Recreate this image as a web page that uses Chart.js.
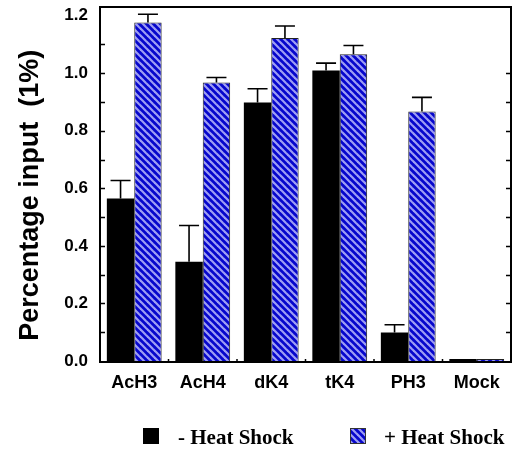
<!DOCTYPE html>
<html>
<head>
<meta charset="utf-8">
<script src="https://cdn.jsdelivr.net/npm/chart.js@4/dist/chart.umd.min.js"></script>
<style>
  html, body { margin: 0; padding: 0; background: #fff; }
  #wrap { width: 521px; height: 450px; position: relative; }
</style>
</head>
<body>
<div id="wrap"><canvas id="c" width="521" height="450"></canvas></div>
<script>
const categories = ['AcH3', 'AcH4', 'dK4', 'tK4', 'PH3', 'Mock'];
const minusHeatShock = [0.565, 0.345, 0.898, 1.009, 0.099, 0.007];
const plusHeatShock  = [1.176, 0.968, 1.122, 1.066, 0.867, 0.007];
const minusErr = [0.062, 0.126, 0.048, 0.026, 0.027, 0];
const plusErr  = [0.029, 0.017, 0.042, 0.030, 0.049, 0];
const seriesLabels = ['- Heat Shock', '+ Heat Shock'];
const yTickValues = [0, 0.2, 0.4, 0.6, 0.8, 1.0, 1.2];
const yTickLabels = ['0.0', '0.2', '0.4', '0.6', '0.8', '1.0', '1.2'];

const canvas = document.getElementById('c');
const mainCtx = canvas.getContext('2d');

function makeHatch(ctx) {
  const s = 7;
  const t = document.createElement('canvas');
  t.width = s; t.height = s;
  const g = t.getContext('2d');
  g.fillStyle = '#0606cc';
  g.fillRect(0, 0, s, s);
  g.strokeStyle = 'rgba(166,166,246,0.95)';
  g.lineWidth = 2.2;
  for (let k = -s; k <= s; k += s) {
    g.beginPath();
    g.moveTo(k - 1, -1);
    g.lineTo(k + s + 1, s + 1);
    g.stroke();
  }
  return ctx.createPattern(t, 'repeat');
}
const hatch = makeHatch(mainCtx);

const errors = [minusErr, plusErr];

const errorBarPlugin = {
  id: 'errorBars',
  afterDatasetsDraw(chart) {
    const ctx = chart.ctx;
    const yScale = chart.scales.y;
    ctx.save();
    ctx.strokeStyle = '#000';
    ctx.lineWidth = 1.6;
    chart.data.datasets.forEach((ds, i) => {
      const meta = chart.getDatasetMeta(i);
      meta.data.forEach((el, j) => {
        const e = errors[i][j];
        if (!e) return;
        const yTop = yScale.getPixelForValue(ds.data[j] + e);
        ctx.beginPath();
        ctx.moveTo(el.x, el.y);
        ctx.lineTo(el.x, yTop);
        ctx.moveTo(el.x - 10, yTop);
        ctx.lineTo(el.x + 10, yTop);
        ctx.stroke();
      });
    });
    ctx.restore();
  }
};

const framePlugin = {
  id: 'frame',
  afterDraw(chart) {
    const ctx = chart.ctx;
    const a = chart.chartArea;
    const y = chart.scales.y;
    const x = chart.scales.x;
    ctx.save();
    ctx.strokeStyle = '#000';
    ctx.lineWidth = 2;
    ctx.beginPath();
    ctx.moveTo(a.left, a.top);
    ctx.lineTo(a.right, a.top);
    ctx.lineTo(a.right, a.bottom + 1);
    ctx.lineTo(a.left, a.bottom + 1);
    ctx.closePath();
    ctx.stroke();
    ctx.lineWidth = 1.5;
    ctx.beginPath();
    for (let v = 1; v <= 11; v++) {
      const py = Math.round(y.getPixelForValue(v / 10)) + 0.5;
      ctx.moveTo(a.left, py); ctx.lineTo(a.left + 5, py);
      if (v <= 10) { ctx.moveTo(a.right, py); ctx.lineTo(a.right - 5, py); }
    }
    for (let i = 1; i < categories.length; i++) {
      const px = (x.getPixelForTick(i - 1) + x.getPixelForTick(i)) / 2;
      ctx.moveTo(px, a.bottom + 1); ctx.lineTo(px, a.bottom - 2);
    }
    ctx.stroke();
    ctx.restore();
  }
};

const legendPlugin = {
  id: 'customLegend',
  afterDraw(chart) {
    const ctx = chart.ctx;
    const ds = chart.data.datasets;
    const items = [
      { box: 143, text: 178, fill: '#000', border: null },
      { box: 350, text: 384, fill: hatch, border: '#333' }
    ];
    ctx.save();
    ctx.font = 'bold 21px "Liberation Serif", "Times New Roman", serif';
    ctx.textBaseline = 'alphabetic';
    ctx.fillStyle = '#000';
    items.forEach((it, i) => {
      ctx.fillStyle = it.fill;
      ctx.fillRect(it.box, 428, 16, 16);
      if (it.border) {
        ctx.strokeStyle = it.border; ctx.lineWidth = 1;
        ctx.strokeRect(it.box + 0.5, 428.5, 15, 15);
      }
      ctx.fillStyle = '#000';
      ctx.fillText(ds[i].label, it.text, 444);
    });
    ctx.restore();
  }
};

new Chart(canvas, {
  type: 'bar',
  data: {
    labels: categories,
    datasets: [
      { label: seriesLabels[0], data: minusHeatShock, backgroundColor: '#000', borderWidth: 0 },
      { label: seriesLabels[1], data: plusHeatShock, backgroundColor: hatch, borderColor: '#222', borderWidth: 1 }
    ]
  },
  options: {
    responsive: false,
    animation: false,
    devicePixelRatio: 1,
    layout: { padding: { left: 0, top: 7, right: 10, bottom: 49 } },
    datasets: { bar: { categoryPercentage: 0.8, barPercentage: 1.0 } },
    plugins: {
      legend: { display: false },
      tooltip: { enabled: false }
    },
    scales: {
      x: {
        offset: true,
        grid: { display: false, drawTicks: false },
        border: { display: false },
        ticks: {
          color: '#000',
          padding: 11,
          font: { family: '"Liberation Sans", Arial, sans-serif', size: 18, weight: 'bold' }
        },
        afterFit(s) { s.height = 40; s.paddingLeft = 0; s.paddingRight = 0; }
      },
      y: {
        min: 0,
        max: 1.23,
        grid: { display: false, drawTicks: false },
        border: { display: false },
        afterBuildTicks(s) { s.ticks = yTickValues.map(v => ({ value: v })); },
        ticks: {
          color: '#000',
          padding: 12,
          font: { family: '"Liberation Sans", Arial, sans-serif', size: 17, weight: 'bold' },
          callback: (v, i) => yTickLabels[i]
        },
        title: {
          display: true,
          text: 'Percentage input  (1%)   ',
          color: '#000',
          padding: { top: 14, bottom: 0 },
          font: { family: '"Liberation Sans", Arial, sans-serif', size: 27, weight: 'bold' }
        },
        afterFit(s) { s.width = 100; s.paddingTop = 0; s.paddingBottom = 0; }
      }
    }
  },
  plugins: [errorBarPlugin, framePlugin, legendPlugin]
});
</script>
</body>
</html>
